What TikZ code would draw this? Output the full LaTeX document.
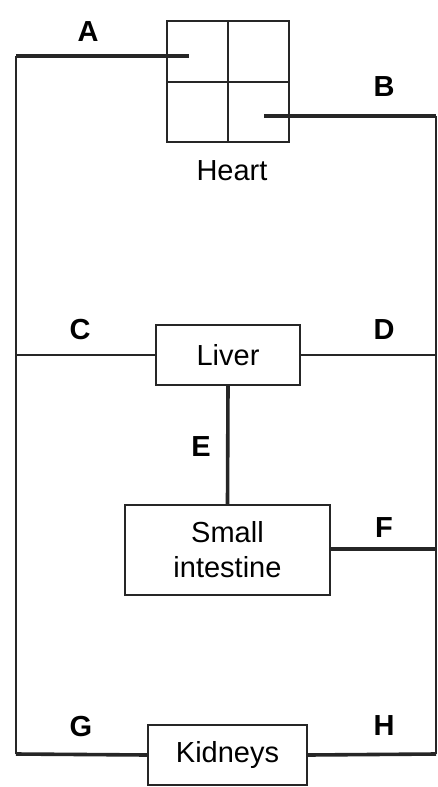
\documentclass[tikz,border=0pt]{standalone}
\usepackage{fontspec}
\setmainfont{Liberation Sans}
\begin{document}
\begin{tikzpicture}[x=1pt,y=-1pt,
  organ/.style={draw=black!85, line width=2pt, fill=white, inner sep=0pt, align=center, font=\fontsize{29}{35}\selectfont},
  vessel/.style={draw=black!85, line width=3.6pt},
  thinvessel/.style={draw=black!85, line width=2.4pt},
  lbl/.style={font=\fontsize{29}{30}\selectfont\bfseries, inner sep=0pt}]
\useasboundingbox (0,0) rectangle (438,787);
% corner coordinates
\coordinate (tl) at (16,56);
\coordinate (tr) at (436,116);
\coordinate (bl) at (16,754);
\coordinate (br) at (436,754);
\coordinate (cl) at (16,355);
\coordinate (dr) at (436,355);
\coordinate (fr) at (436,549);
\coordinate (aend) at (189,56);
\coordinate (bend) at (264,116);
% outer verticals
\draw[thinvessel] (tl) -- (bl);
\draw[thinvessel] (tr) -- (br);
% heart
\node[organ, minimum width=122pt, minimum height=121pt] (heart) at (228,81.5) {};
\draw[draw=black!85, line width=2pt] (heart.north) -- (heart.south);
\draw[draw=black!85, line width=2pt] (heart.west) -- (heart.east);
\node[font=\fontsize{29}{30}\selectfont, inner sep=0pt] (heartlbl) at (232,171) {Heart};
% organs
\node[organ, minimum width=144pt, minimum height=60pt] (liver) at (228,355) {Liver};
\node[organ, minimum width=205pt, minimum height=90pt] (si) at (227.5,550) {Small\\intestine};
\node[organ, minimum width=159pt, minimum height=60pt] (kid) at (227.5,755) {Kidneys};
% vessels
\draw[vessel] (tl) -- (aend);
\draw[vessel] (bend) -- (tr);
\draw[thinvessel] (cl) -- (liver.west);
\draw[thinvessel] (liver.east) -- (dr);
\draw[vessel] (liver.south) -- (si.north);
\draw[vessel] (si.east |- fr) -- (fr);
\draw[vessel] (bl) -- (kid.west);
\draw[vessel] (kid.east) -- (br);
% labels
\node[lbl] (la) at (88,32) {A};
\node[lbl] (lb) at (384,87) {B};
\node[lbl] (lc) at (80,330) {C};
\node[lbl] (ld) at (384,330) {D};
\node[lbl] (le) at (201,447) {E};
\node[lbl] (lf) at (384,528) {F};
\node[lbl] (lg) at (81,727) {G};
\node[lbl] (lh) at (384,726) {H};
\end{tikzpicture}
\end{document}
